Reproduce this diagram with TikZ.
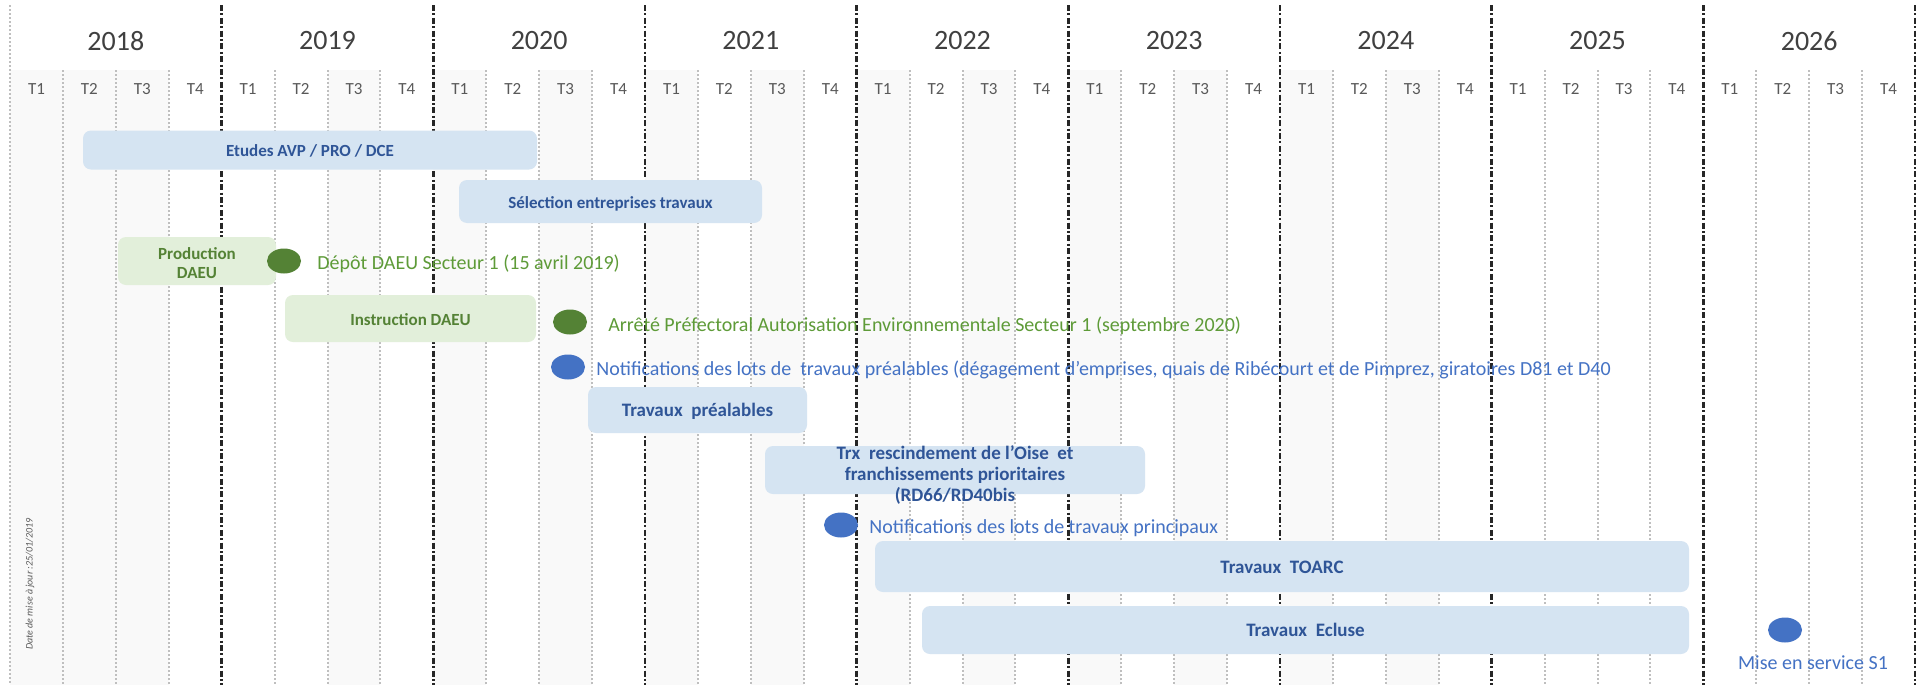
\documentclass[tikz,border=0pt]{standalone}
\usepackage{fontspec}
\setmainfont{Carlito}
\usetikzlibrary{shapes.geometric}
\definecolor{colgrey}{HTML}{F9F9F9}
\definecolor{qgrey}{HTML}{BFBFBF}
\definecolor{ydark}{HTML}{262626}
\definecolor{yeartxt}{HTML}{404040}
\definecolor{qtxt}{HTML}{595959}
\definecolor{barblue}{HTML}{D5E4F2}
\definecolor{bartxtblue}{HTML}{2F5597}
\definecolor{bargreen}{HTML}{E2EFDA}
\definecolor{bartxtgreen}{HTML}{548235}
\definecolor{dotgreen}{HTML}{548235}
\definecolor{txtgreen}{HTML}{5E9B38}
\definecolor{dotblue}{HTML}{4472C4}
\definecolor{txtblue}{HTML}{4472C4}
\tikzset{
  qline/.style={draw=qgrey, line width=1pt, dash pattern=on 1pt off 1pt},
  yline/.style={draw=ydark, line width=1.2pt, dash pattern=on 3pt off 1.2pt on 1pt off 1.2pt},
  yearlab/.style={text=yeartxt, font=\fontsize{14}{16}\selectfont, inner sep=0pt},
  qlab/.style={text=qtxt, font=\fontsize{8.5}{10}\selectfont, inner sep=0pt},
  bluebar/.style={rectangle, fill=barblue, draw=none, rounded corners=4pt, inner sep=0pt, text=bartxtblue, font=\bfseries\fontsize{8.5}{9.5}\selectfont},
  onebar/.style={text height=6.5pt, text depth=0pt},
  bigbar/.style={bluebar, font=\bfseries\fontsize{9.5}{10.5}\selectfont},
  bartxt/.style={inner sep=0pt, text=bartxtblue, font=\bfseries\fontsize{9.5}{10.5}\selectfont},
  greenbar/.style={rectangle, fill=bargreen, draw=none, rounded corners=4pt, inner sep=0pt, text=bartxtgreen, font=\bfseries\fontsize{8.5}{9.5}\selectfont},
  gdot/.style={ellipse, fill=dotgreen, draw=none, minimum width=17pt, minimum height=12.5pt, inner sep=0pt},
  bdot/.style={ellipse, fill=dotblue, draw=none, minimum width=17pt, minimum height=12.5pt, inner sep=0pt},
  gtext/.style={text=txtgreen, font=\fontsize{10}{12}\selectfont, inner sep=0pt, anchor=west},
  btext/.style={text=txtblue, font=\fontsize{10}{12}\selectfont, inner sep=0pt, anchor=west},
}
\begin{document}
\begin{tikzpicture}[x=0.5pt,y=-0.5pt]
\useasboundingbox (0,0) rectangle (1925,685);
\fill[white] (0,0) rectangle (1925,685);
% shaded quarter columns
\foreach \q in {0,1,2,6,8,10,12,14,16,18,20,22,24,26}
  \fill[colgrey] ({10+\q*52.917},70) rectangle ({10+(\q+1)*52.917},685);
% quarter lines
\foreach \yy in {0,...,8}
  \foreach \k in {1,2,3}
    \draw[qline] ({10+(4*\yy+\k)*52.917},70) -- ({10+(4*\yy+\k)*52.917},685);
\draw[qline] (10,5) -- (10,685);
% year lines
\foreach \yy in {1,...,9}
  \draw[yline] ({10+\yy*211.667},5) -- ({10+\yy*211.667},685);
% year labels
\foreach \yr [count=\i from 0] in {2018,...,2026}
  \node[yearlab] (y\yr) at ({10+(\i+0.5)*211.667},41) {\yr};
% quarter labels
\foreach \i in {0,...,8}
  \foreach \k in {1,...,4}
    \node[qlab] (q\i-\k) at ({10+(4*\i+\k-0.5)*52.917},89) {T\k};
% bars
\node[bluebar, onebar, minimum width=227pt, minimum height=19.5pt] (etudes) at (310,150) {Etudes AVP / PRO / DCE};
\node[bluebar, onebar, minimum width=151.5pt, minimum height=21.5pt] (selection) at (610.5,201.5) {Sélection entreprises travaux};
\node[greenbar, minimum width=79pt, minimum height=24pt, align=center] (production) at (197,261) {};
\node[inner sep=0pt, text=bartxtgreen, font=\bfseries\fontsize{8.5}{9.5}\selectfont, align=center] (productionlabel) at (197,263) {Production\\DAEU};
\node[greenbar, onebar, minimum width=125.5pt, minimum height=23.5pt] (instruction) at (410.5,318.5) {Instruction DAEU};
\node[bigbar, onebar, minimum width=109.5pt, minimum height=23pt] (prealables) at (697.5,410) {Travaux\ \ préalables};
\node[bigbar, minimum width=190pt, minimum height=24pt] (trx) at (955,470) {};
\node[bartxt, align=center] (trxlabel) at (955,475) {Trx\ \ rescindement de l’Oise\ \ et\\franchissements prioritaires\\(RD66/RD40bis};
\node[bigbar, onebar, minimum width=407pt, minimum height=25.5pt] (toarc) at (1282,566.5) {Travaux\ \ TOARC};
\node[bigbar, onebar, minimum width=383.5pt, minimum height=24pt] (ecluse) at (1305.5,630) {Travaux\ \ Ecluse};
% milestones
\node[gdot] (m1) at (284,261) {};
\node[gtext] (m1lab) at (317,264) {Dépôt DAEU Secteur 1 (15 avril 2019)};
\node[gdot] (m2) at (570,322) {};
\node[gtext] (m2lab) at (608,326) {Arrêté Préfectoral Autorisation Environnementale Secteur 1 (septembre 2020)};
\node[bdot] (m3) at (568,367) {};
\node[btext] (m3lab) at (596,370) {Notifications des lots de\ \ travaux préalables (dégagement d’emprises, quais de Ribécourt et de Pimprez, giratoires D81 et D40};
\node[bdot] (m4) at (841,525) {};
\node[btext] (m4lab) at (869,528) {Notifications des lots de travaux principaux};
\node[bdot] (m5) at (1785,630) {};
\node[text=txtblue, font=\fontsize{10}{12}\selectfont, inner sep=0pt] (m5lab) at (1813,663) {Mise en service S1};
% update date
\node[rotate=90, text=qtxt, font=\itshape\fontsize{5}{6}\selectfont, inner sep=0pt] (maj) at (30,584) {Date de mise à jour :25/01/2019};
\end{tikzpicture}
\end{document}
